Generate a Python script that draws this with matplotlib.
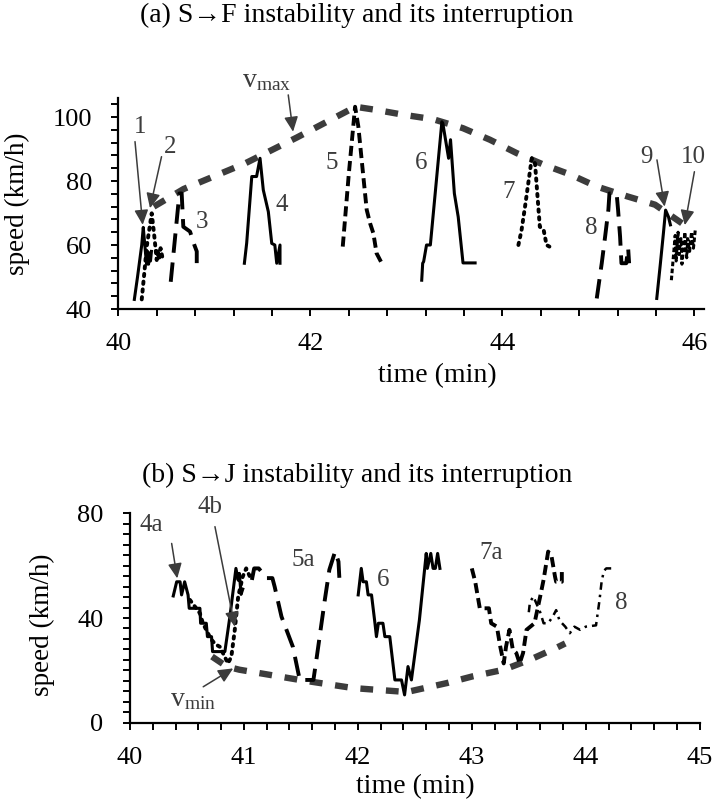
import matplotlib
matplotlib.use('Agg')
import matplotlib.pyplot as plt
import numpy as np

plt.rcParams['font.family'] = ['Liberation Serif', 'DejaVu Serif']
plt.rcParams['mathtext.fontset'] = 'custom'
plt.rcParams['mathtext.rm'] = 'Liberation Serif'
plt.rcParams['mathtext.it'] = 'Liberation Serif'

# ---------------- panel (a) data ----------------
a1_t = [40.167, 40.20, 40.244, 40.26, 40.27, 40.285, 40.295, 40.305, 40.315, 40.325, 40.335, 40.345]
a1_v = [43, 50, 60, 65.5, 62, 57, 54, 58, 54, 57.5, 55, 58]
a2_t = [40.244, 40.27, 40.296, 40.348, 40.372, 40.40, 40.41, 40.425, 40.44, 40.46]
a2_v = [43, 51, 59.5, 69.9, 63.6, 55.3, 58.5, 55.5, 59, 56]
a3_t = [40.546, 40.59, 40.636, 40.66, 40.677, 40.747, 40.792, 40.817, 40.817, 40.886]
a3_v = [48.5, 62, 76.1, 76.1, 65.7, 64.2, 60, 58, 54.3, 54.3]
a4_t = [41.313, 41.337, 41.39, 41.44, 41.476, 41.51, 41.5625, 41.598, 41.63, 41.65, 41.684, 41.684]
a4_v = [54.3, 60.6, 81.4, 81.4, 87.1, 77.2, 70.4, 60.5, 60, 54.3, 60, 54.3]
a5_t = [42.3375, 42.40, 42.466, 42.50, 42.552, 42.587, 42.622, 42.656, 42.69, 42.744]
a5_v = [59.5, 82, 103.2, 97, 81.4, 71, 66.8, 63.7, 57.4, 54.3]
a6_t = [43.16, 43.17, 43.18, 43.21, 43.25, 43.37, 43.38, 43.44, 43.46, 43.50, 43.54, 43.59, 43.716]
a6_v = [49, 54.3, 54.8, 60, 60, 98.5, 98, 87.1, 92.9, 76.1, 68.8, 54.4, 54.4]
a7_t = [44.167, 44.20, 44.236, 44.306, 44.34, 44.39, 44.43, 44.46, 44.49]
a7_v = [60, 64.7, 72, 87.1, 85.5, 65.7, 64.7, 60, 59.5]
a8_t = [44.983, 45.035, 45.07, 45.104, 45.115, 45.19, 45.205, 45.226, 45.24, 45.29, 45.31, 45.32]
a8_v = [43.3, 54.3, 62.6, 71, 76.1, 76.1, 71, 62.6, 54.3, 54.3, 59, 54.3]
a9_t = [45.608, 45.645, 45.677, 45.70, 45.73, 45.75]
a9_v = [43.3, 54, 63.6, 70.9, 68.8, 66.3]
a10_t = [45.76, 45.78, 45.80, 45.81, 45.83, 45.84, 45.86, 45.87, 45.89, 45.90, 45.92, 45.93, 45.95, 45.97, 45.99, 46.01]
a10_v = [49, 56, 63, 55, 64, 57, 62, 54, 60, 64, 56, 62, 58, 64, 59, 65]
vmax_t = [40.37, 40.68, 41.32, 41.86, 42.47, 42.69, 42.97, 43.28, 43.59, 43.87, 44.15, 44.43, 44.71, 44.98, 45.30, 45.59, 45.87]
vmax_v = [72, 77.5, 85.5, 93.6, 103.2, 102.2, 100.7, 99.3, 96.5, 92.9, 88.7, 85.1, 82, 78.3, 75.2, 72.6, 66.8]

# ---------------- panel (b) data ----------------
b4a_t = [40.38, 40.41, 40.44, 40.453, 40.48, 40.51, 40.52, 40.614, 40.62, 40.67, 40.68, 40.716, 40.725,
         40.833, 40.877, 40.93, 40.95, 40.96, 40.975, 40.99]
b4a_v = [48.4, 53.8, 53.8, 48.8, 53.8, 48.8, 43.7, 43.7, 38, 38, 32.9, 32.9, 27.2,
         27.2, 40.5, 58.9, 54.4, 57, 49, 51]
b4b_t = [40.526, 40.614, 40.64, 40.71, 40.75, 40.79, 40.86, 40.89, 40.92, 40.95, 40.99, 41.02, 41.05, 41.08]
b4b_v = [46.9, 41.8, 38, 32, 30, 29, 22.7, 25.3, 35.5, 48.2, 55.8, 58.9, 56, 57]
b5a_t = [41.07, 41.09, 41.13, 41.20, 41.25, 41.27, 41.33, 41.43, 41.49, 41.61, 41.64, 41.71, 41.75, 41.80, 41.83, 41.84]
b5a_v = [54.5, 58.9, 58.9, 55.2, 55.2, 51.9, 40.5, 29, 16.4, 16.4, 25.3, 46.9, 58.4, 65.3, 61.5, 53.3]
b6_t = [42.003, 42.03, 42.046, 42.075, 42.09, 42.12, 42.15, 42.163, 42.18, 42.22, 42.237, 42.28, 42.325,
        42.383, 42.41, 42.44, 42.47, 42.54, 42.60, 42.61, 42.64, 42.66, 42.68, 42.70, 42.72]
b6_v = [48.8, 58.9, 53.8, 53.8, 48.8, 48.8, 38, 32.9, 38, 38, 32.9, 32.9, 16.4,
        16.4, 10.7, 21.5, 16.4, 39.2, 64.6, 58.9, 64.6, 58.9, 58.9, 64.6, 58.9]
b7a_t = [43.0, 43.03, 43.07, 43.15, 43.17, 43.22, 43.25, 43.28, 43.30, 43.33, 43.36, 43.39, 43.42, 43.45,
         43.48, 43.55, 43.60, 43.63, 43.67, 43.70, 43.73, 43.74, 43.79, 43.79]
b7a_v = [58.9, 53.8, 43.7, 43.7, 38, 36.7, 29, 22.7, 29, 35.5, 27.9, 26.7, 22.7, 26.7,
         35.5, 38, 48.2, 54.6, 65.3, 63.4, 55.8, 53.8, 53.8, 58.9]
b8_t = [43.50, 43.51, 43.54, 43.60, 43.63, 43.67, 43.71, 43.74, 43.77, 43.82, 43.86, 43.90, 43.95, 44.0,
        44.09, 44.12, 44.14, 44.16, 44.18, 44.25]
b8_v = [42.2, 46, 48.2, 42.2, 38, 38, 40.5, 43, 39, 36.7, 34.2, 36.7, 35.5, 36.7,
        37.2, 46.6, 54.2, 58, 58.9, 58.9]
vmin_t = [40.72, 40.85, 40.96, 41.49, 41.96, 42.43, 42.78, 43.01, 43.28, 43.51, 43.74, 43.82]
vmin_v = [25.3, 21.5, 20.3, 16.4, 13.3, 11.8, 15.2, 17.8, 20.3, 24.1, 28.6, 30.3]

ink = 'black'
grey = '#3c3c3c'
dotted = (0, (0.6, 1.4))
longdash = (0, (5, 2.5))
shortdash = (0, (2.6, 1.3))
envelope = (0, (2.0, 2.0))

fig = plt.figure(figsize=(7.14, 8.07), dpi=100)


def style_axes(ax):
    for s in ['top', 'right']:
        ax.spines[s].set_visible(False)
    for s in ['left', 'bottom']:
        ax.spines[s].set_linewidth(1.6)
    ax.tick_params(which='both', direction='out', length=5, width=1.4, labelsize=19)
    ax.tick_params(axis='x', which='both', pad=12)
    ax.tick_params(axis='y', which='both', pad=14)


def label(ax, x, y, s, **kw):
    ax.text(x, y, s, fontsize=18, color=grey, ha='center', va='center', **kw)


def arrow(ax, xy, xytext):
    ax.annotate('', xy=xy, xytext=xytext, annotation_clip=False,
                arrowprops=dict(arrowstyle='-|>,head_length=0.9,head_width=0.42',
                                color=grey, lw=1.1, shrinkA=0, shrinkB=0))


# ---------------- panel (a) ----------------
ax1 = fig.add_axes([0.1657, 0.6171, 0.8203, 0.2617])
style_axes(ax1)
ax1.plot(vmax_t, vmax_v, color=grey, lw=4.6, linestyle=envelope)
ax1.plot(a1_t, a1_v, color=ink, lw=2.2)
ax1.plot(a2_t, a2_v, color=ink, lw=2.8, linestyle=dotted, dash_capstyle='round')
ax1.plot(a3_t, a3_v, color=ink, lw=2.8, linestyle=longdash)
ax1.plot(a4_t, a4_v, color=ink, lw=2.2)
ax1.plot(a5_t, a5_v, color=ink, lw=2.8, linestyle=shortdash)
ax1.plot(a6_t, a6_v, color=ink, lw=2.2)
ax1.plot(a7_t, a7_v, color=ink, lw=2.8, linestyle=dotted, dash_capstyle='round')
ax1.plot(a8_t, a8_v, color=ink, lw=2.8, linestyle=longdash)
ax1.plot(a9_t, a9_v, color=ink, lw=2.2)
ax1.plot(a10_t, a10_v, color=ink, lw=2.2, linestyle=(0, (1.5, 0.8)))
ax1.set_xlim(40, 46.1)
ax1.set_ylim(40, 106)
ax1.set_xticks([40, 42, 44, 46])
ax1.set_xticks(np.arange(40, 46.01, 0.4), minor=True)
ax1.set_yticks([40, 60, 80, 100])
ax1.set_yticks(np.arange(40, 105, 4), minor=True)
ax1.set_xlabel('time (min)', fontsize=20)
ax1.xaxis.set_label_coords(0.544, -0.255)
ax1.set_ylabel('speed (km/h)', fontsize=19.5)
ax1.yaxis.set_label_coords(-0.150, 0.5)

for s, x, y in [('1', 40.227, 97), ('2', 40.54, 90.7), ('3', 40.87, 67.3), ('4', 41.70, 72.5),
                ('5', 42.22, 85.5), ('6', 43.15, 85.5), ('7', 44.06, 76.7), ('8', 44.93, 65.2),
                ('9', 45.50, 87.6), ('10', 45.99, 87.6)]:
    label(ax1, x, y, s)
arrow(ax1, (40.254, 66.3), (40.174, 92.3))
arrow(ax1, (40.33, 71.5), (40.45, 87.6))
arrow(ax1, (45.69, 72), (45.61, 86.6))
arrow(ax1, (45.90, 66.2), (46.0, 82.9))
arrow(ax1, (41.82, 95.4), (41.77, 106.9))
ax1.text(41.55, 111.5, r'$\mathrm{v_{max}}$', fontsize=20, color=grey, ha='center', va='center', clip_on=False)

# ---------------- panel (b) ----------------
ax2 = fig.add_axes([0.182, 0.1041, 0.798, 0.2602])
style_axes(ax2)
ax2.plot(vmin_t, vmin_v, color=grey, lw=4.6, linestyle=envelope)
ax2.plot(b4a_t, b4a_v, color=ink, lw=2.2)
ax2.plot(b4b_t, b4b_v, color=ink, lw=2.8, linestyle=dotted, dash_capstyle='round')
ax2.plot(b5a_t, b5a_v, color=ink, lw=2.8, linestyle=longdash)
ax2.plot(b6_t, b6_v, color=ink, lw=2.2)
ax2.plot(b7a_t, b7a_v, color=ink, lw=2.8, linestyle=shortdash)
ax2.plot(b8_t, b8_v, color=ink, lw=1.8, linestyle=(0, (3, 2, 1, 2)))
ax2.set_xlim(40, 45)
ax2.set_ylim(0, 80)
ax2.set_xticks([40, 41, 42, 43, 44, 45])
ax2.set_xticks(np.arange(40, 45.01, 0.2), minor=True)
ax2.set_yticks([0, 40, 80])
ax2.set_yticks(np.arange(0, 81, 4), minor=True)
ax2.set_xlabel('time (min)', fontsize=20, labelpad=4)
ax2.set_ylabel('speed (km/h)', fontsize=19.5)
ax2.yaxis.set_label_coords(-0.132, 0.47)

for s, x, y in [('4a', 40.19, 75.4), ('4b', 40.70, 82.4), ('5a', 41.52, 62.1), ('6', 42.22, 54.5),
                ('7a', 43.17, 64.6), ('8', 44.31, 45.6)]:
    label(ax2, x, y, s)
arrow(ax2, (40.415, 55.1), (40.366, 68.4))
arrow(ax2, (40.92, 36.7), (40.746, 74.8))
arrow(ax2, (40.906, 20.8), (40.643, 13.8))
ax2.text(40.555, 8.8, r'$\mathrm{v_{min}}$', fontsize=20, color=grey, ha='center', va='center')

fig.text(0.5, 0.981, '(a) S\u2192F instability and its interruption', fontsize=20, ha='center', va='center')
fig.text(0.5, 0.411, '(b) S\u2192J instability and its interruption', fontsize=20, ha='center', va='center')

fig.savefig('out.png', dpi=100)
